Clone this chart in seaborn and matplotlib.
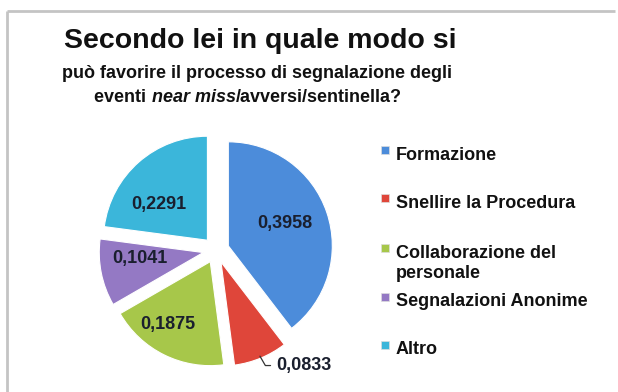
import numpy as np
import matplotlib
matplotlib.use("Agg")
import matplotlib.pyplot as plt
from matplotlib.patches import Rectangle
from matplotlib.lines import Line2D
import seaborn as sns

sns.set_theme(style="white")
plt.rcParams['font.family'] = ['Liberation Sans', 'DejaVu Sans']

# Data
categories = ["Formazione", "Snellire la Procedura", "Collaborazione del\npersonale",
              "Segnalazioni Anonime", "Altro"]
values = [0.3958, 0.0833, 0.1875, 0.1041, 0.2291]
value_labels = ["0,3958", "0,0833", "0,1875", "0,1041", "0,2291"]
colors = sns.color_palette(["#4C8CDA", "#DF463A", "#A7C74A", "#9479C4", "#3BB6DA"])

W, H = 618, 392
fig = plt.figure(figsize=(W / 100, H / 100), dpi=100)
fig.patch.set_facecolor("white")

# Outer frame (top and left edges only)
frame_kw = dict(transform=fig.transFigure, color="#C4C4C4", linewidth=2,
                solid_capstyle="butt")
fig.add_artist(Line2D([6.5 / W, 0.995], [1 - 11 / H, 1 - 11 / H], **frame_kw))
fig.add_artist(Line2D([6.5 / W, 6.5 / W], [0.0, 1 - 11 / H], **frame_kw))

# Title block
fig.text(260 / W, 1 - 41 / H, "Secondo lei in quale modo si", ha="center", va="center",
         fontsize=20.5, fontweight="bold", color="#111111")
fig.text(257 / W, 1 - 73 / H, "può favorire il processo di segnalazione degli", ha="center",
         va="center", fontsize=13, fontweight="bold", color="#111111")

# Second subtitle line with an italic segment
parts = [("eventi ", "normal"), ("near miss", "italic"), ("/avversi/sentinella?", "normal")]
fig.canvas.draw()
renderer = fig.canvas.get_renderer()
texts = []
for s, st in parts:
    t = fig.text(0, 1 - 97 / H, s, ha="left", va="center", fontsize=13,
                 fontweight="bold", fontstyle=st, color="#111111")
    texts.append(t)
widths = [t.get_window_extent(renderer).width for t in texts]
x = 248 - sum(widths) / 2
for t, w in zip(texts, widths):
    t.set_x(x / W)
    x += w

# Pie
R = 104
cx, cy = 216, 250
half = 1.25
ax = fig.add_axes([(cx - half * R) / W, (H - cy - half * R) / H, 2 * half * R / W, 2 * half * R / H])
ax.set_xlim(-half, half)
ax.set_ylim(-half, half)
ax.set_aspect("equal")
ax.axis("off")

explode = [0.125] * len(values)
wedges, _ = ax.pie(values, colors=colors, startangle=90, counterclock=False,
                   explode=explode, radius=1.0,
                   wedgeprops=dict(edgecolor="white", linewidth=0.8))

# label placement: radial distance and angular nudge (degrees) per slice
label_dist = [0.59, None, 0.73, 0.61, 0.58]
label_nudge = [3, 0, -8, -6, 12]
for i, w in enumerate(wedges):
    ang = np.deg2rad((w.theta1 + w.theta2) / 2)
    ox, oy = w.center
    if label_dist[i] is None:
        # small slice: label outside with elbow leader line
        ex, ey = ox + np.cos(ang) * 0.98, oy + np.sin(ang) * 0.98
        ax.annotate(value_labels[i], xy=(ex, ey),
                    xytext=(ex + 0.16, ey - 0.09), ha="left", va="center",
                    fontsize=13, fontweight="bold", color="#1A1F2E",
                    arrowprops=dict(arrowstyle="-", color="#333333", lw=0.9,
                                    connectionstyle="angle,angleA=0,angleB=-60,rad=0",
                                    shrinkA=2, shrinkB=0))
    else:
        a = ang + np.deg2rad(label_nudge[i])
        d = label_dist[i]
        ax.text(ox + np.cos(a) * d, oy + np.sin(a) * d, value_labels[i],
                ha="center", va="center", fontsize=13, fontweight="bold", color="#1A1F2E")

# Legend
legend_y = [155, 203, 253, 302, 350]
for cat, col, y in zip(categories, colors, legend_y):
    fig.add_artist(Rectangle((381 / W, 1 - (y - 1) / H), 8 / W, 8 / H, transform=fig.transFigure,
                             facecolor=col, edgecolor="#DDDDDD", linewidth=0.5))
    lines = cat.split("\n")
    for k, ln in enumerate(lines):
        fig.text(396 / W, 1 - (y + 20 * k) / H, ln, ha="left", va="center",
                 fontsize=13, fontweight="bold", color="#111111")

fig.savefig("out.png", dpi=100, facecolor="white")
